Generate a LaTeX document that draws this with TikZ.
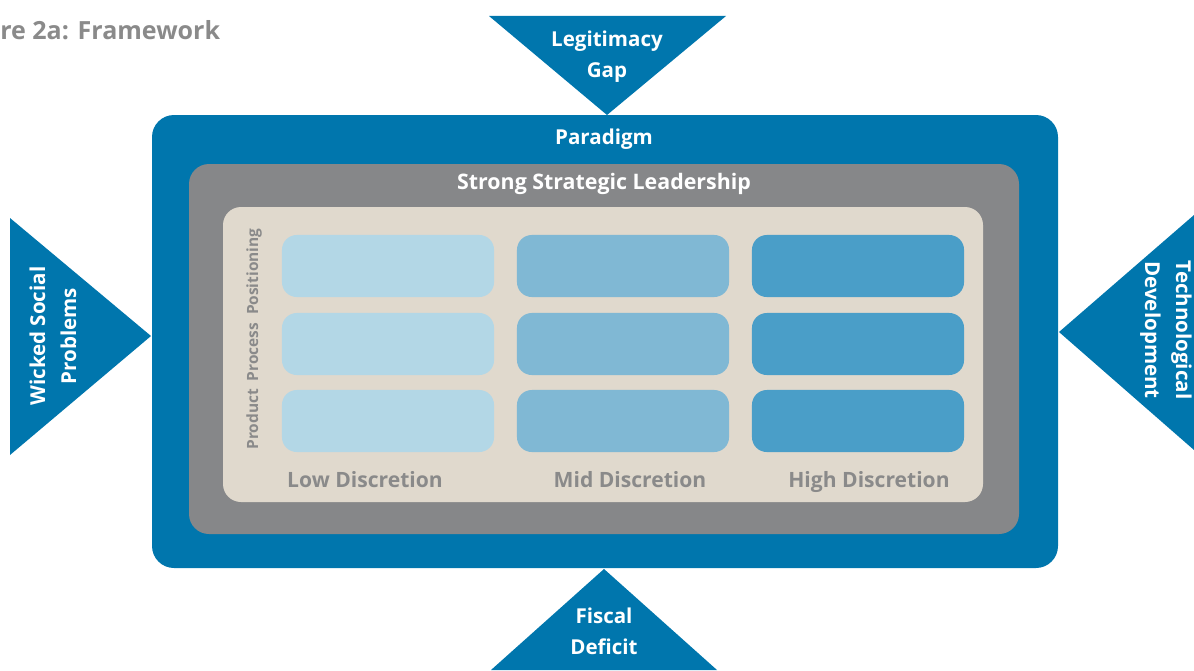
\documentclass[tikz,border=0pt]{standalone}
\usepackage{fontspec}
\setmainfont{Open Sans}
\usepackage{tikz}

\definecolor{parblue}{RGB}{0,118,173}
\definecolor{leadgray}{RGB}{134,135,137}
\definecolor{sandbg}{RGB}{224,217,205}
\definecolor{celllow}{RGB}{179,215,230}
\definecolor{cellmid}{RGB}{128,184,212}
\definecolor{cellhigh}{RGB}{74,158,200}
\definecolor{txtgray}{RGB}{138,138,138}

\begin{document}
\begin{tikzpicture}[
  x=0.025cm, y=-0.025cm,
  font=\bfseries,
  wtxt/.style ={text=white, align=center, inner sep=0pt,
                font=\fontsize{14.6}{22}\selectfont\bfseries},
  gtxt/.style ={text=txtgray, inner sep=0pt, anchor=base,
                font=\fontsize{15}{18}\selectfont\bfseries},
  cell/.style ={rounded corners=0.37cm, minimum width=5.3cm,
                minimum height=1.55cm, inner sep=0pt},
  low/.style  ={cell, fill=celllow},
  mid/.style  ={cell, fill=cellmid},
  high/.style ={cell, fill=cellhigh},
  force/.style={fill=parblue}
]
    \useasboundingbox (0,0) rectangle (1194,670);

    % Title (cut at the left edge)
    \node[gtxt, anchor=base west, font=\fontsize{17.8}{20}\selectfont\bfseries]
      (title) at (0,40) {re 2a: Framework};

    % Nested frames
    \fill[parblue,  rounded corners=0.55cm] (152,115) rectangle (1058,568);
    \fill[leadgray, rounded corners=0.5cm]  (189,164) rectangle (1019,534);
    \fill[sandbg,   rounded corners=0.45cm] (223,207) rectangle (983,502);

    \node[wtxt] (paradigm) at (604,139) {Paradigm};
    \node[wtxt, font=\fontsize{15.2}{18}\selectfont\bfseries]
      (lead) at (604,184) {Strong Strategic Leadership};

    % Discretion grid
    \node[low]  (l1) at (388,266) {};
    \node[low]  (l2) at (388,344) {};
    \node[low]  (l3) at (388,421) {};
    \node[mid]  (m1) at (623,266) {};
    \node[mid]  (m2) at (623,344) {};
    \node[mid]  (m3) at (623,421) {};
    \node[high] (h1) at (858,266) {};
    \node[high] (h2) at (858,344) {};
    \node[high] (h3) at (858,421) {};

    \node[gtxt, anchor=center, rotate=90,
          font=\fontsize{11}{13}\selectfont\bfseries]
      (types) at (254,339) {Product\enspace Process\enspace Positioning};

    \node[gtxt] (low)  at (365,487) {Low Discretion};
    \node[gtxt] (mid)  at (630,487) {Mid Discretion};
    \node[gtxt] (high) at (869,487) {High Discretion};

    % Outside forces
    \fill[force] (489,16) -- (726,16) -- (607,115) -- cycle;
    \node[wtxt] (legit) at (607,57) {Legitimacy\\Gap};

    \fill[force] (604,569) -- (717,670) -- (491,670) -- cycle;
    \node[wtxt] (fiscal) at (604,631) {Fiscal\\Deficit};

    \fill[force] (10,218) -- (151,336) -- (10,455) -- cycle;
    \node[wtxt, rotate=90] (wicked) at (53,336) {Wicked Social\\Problems};

    \fill[force] (1194,215) -- (1059,332) -- (1194,450) -- cycle;
    \node[wtxt, rotate=-90] (tech) at (1166,330) {Technological\\Development};
\end{tikzpicture}
\end{document}
